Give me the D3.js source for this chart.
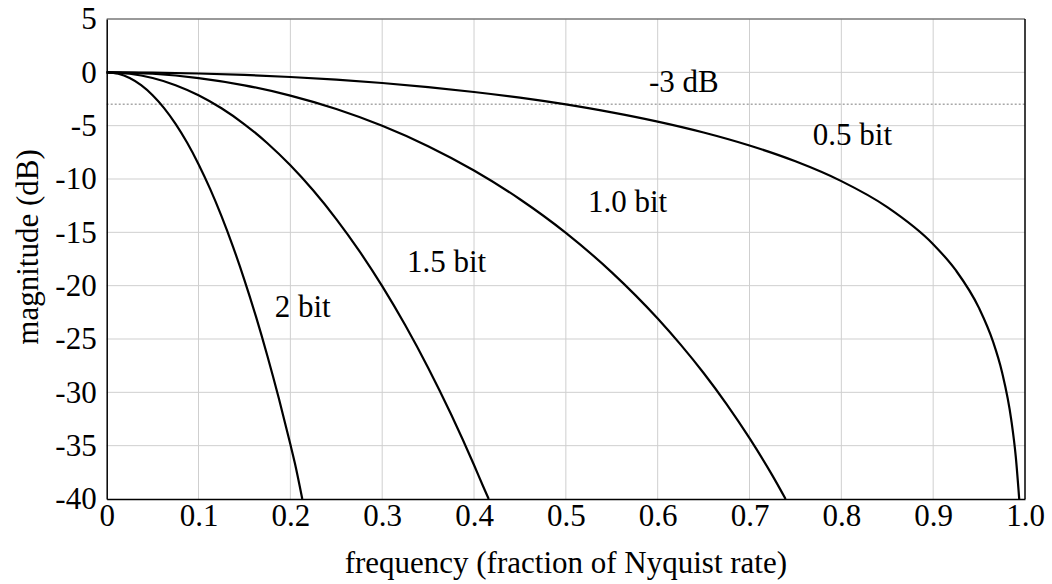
<!DOCTYPE html>
<html>
<head>
<meta charset="utf-8">
<script src="https://cdn.jsdelivr.net/npm/d3@7"></script>
<style>
  html, body { margin: 0; padding: 0; background: #fff; }
  svg { display: block; font-family: "Liberation Serif", "Times New Roman", Times, serif; }
</style>
</head>
<body>
<svg id="chart" width="1052" height="584"></svg>
<script>
// Frequency response curves (magnitude in dB vs. fraction of Nyquist rate)
const freq05 = [0, 0.05, 0.1, 0.15, 0.2, 0.25, 0.3, 0.35, 0.4, 0.45, 0.5, 0.55, 0.6, 0.65, 0.7, 0.75, 0.8, 0.85, 0.9, 0.925, 0.95, 0.965, 0.975, 0.985, 0.99, 0.9937];
const mag05  = [0, -0.027, -0.108, -0.243, -0.436, -0.688, -1.002, -1.385, -1.841, -2.379, -3.010, -3.749, -4.616, -5.638, -6.859, -8.343, -10.200, -12.636, -16.113, -18.597, -22.107, -25.20, -28.121, -32.556, -36.078, -40];

const freq10 = [0, 0.05, 0.1, 0.15, 0.2, 0.25, 0.3, 0.35, 0.4, 0.45, 0.5, 0.55, 0.6, 0.625, 0.65, 0.675, 0.7, 0.725, 0.735, 0.7393];
const mag10  = [0, -0.134, -0.538, -1.217, -2.180, -3.439, -5.012, -6.924, -9.204, -11.896, -15.05, -18.75, -23.08, -25.53, -28.19, -31.10, -34.30, -37.81, -39.33, -40];

const freq15 = [0, 0.025, 0.05, 0.075, 0.1, 0.125, 0.15, 0.175, 0.2, 0.225, 0.25, 0.275, 0.3, 0.325, 0.35, 0.375, 0.4, 0.41, 0.416];
const mag15  = [0, -0.134, -0.536, -1.208, -2.152, -3.371, -4.868, -6.648, -8.718, -11.084, -13.754, -16.738, -20.048, -23.695, -27.694, -32.061, -36.816, -38.83, -40];

const freq20 = [0, 0.0125, 0.025, 0.0375, 0.05, 0.0625, 0.075, 0.0875, 0.1, 0.1125, 0.125, 0.1375, 0.15, 0.1625, 0.175, 0.1875, 0.2, 0.205, 0.213];
const mag20  = [0, -0.134, -0.536, -1.206, -2.146, -3.354, -4.834, -6.584, -8.608, -10.906, -13.482, -16.335, -19.472, -22.885, -26.591, -30.585, -34.874, -36.67, -40];

// Axis ticks
const xTicks = [0, 0.1, 0.2, 0.3, 0.4, 0.5, 0.6, 0.7, 0.8, 0.9, 1.0];
const xTickLabels = ["0", "0.1", "0.2", "0.3", "0.4", "0.5", "0.6", "0.7", "0.8", "0.9", "1.0"];
const yTicks = [5, 0, -5, -10, -15, -20, -25, -30, -35, -40];

// Reference level and curve annotations
const cutoffLevel = -3;
const annotations = [
  { text: "-3 dB",   f: 0.5906, db: -1.85 },
  { text: "0.5 bit", f: 0.769,  db: -6.84 },
  { text: "1.0 bit", f: 0.524,  db: -13.1 },
  { text: "1.5 bit", f: 0.327,  db: -18.7 },
  { text: "2 bit",   f: 0.183,  db: -22.9 }
];

const series = [
  { f: freq05, m: mag05 },
  { f: freq10, m: mag10 },
  { f: freq15, m: mag15 },
  { f: freq20, m: mag20 }
];

const svg = d3.select("#chart");
const W = 1052, H = 584;
const margin = { left: 106.7, right: 27, top: 19, bottom: 85 };
const x = d3.scaleLinear().domain([0, 1]).range([margin.left, W - margin.right]);
const y = d3.scaleLinear().domain([-40, 5]).range([H - margin.bottom, margin.top]);

const fontSize = 31;

// Grid
const grid = svg.append("g");
grid.selectAll("line.vx").data(xTicks.slice(1, -1)).join("line")
  .attr("x1", d => x(d)).attr("x2", d => x(d))
  .attr("y1", y(5)).attr("y2", y(-40))
  .attr("stroke", "#cfcfcf").attr("stroke-width", 1);
grid.selectAll("line.hy").data(yTicks.slice(1, -1)).join("line")
  .attr("x1", x(0)).attr("x2", x(1))
  .attr("y1", d => y(d)).attr("y2", d => y(d))
  .attr("stroke", "#cfcfcf").attr("stroke-width", 1);

// -3 dB reference
svg.append("line")
  .attr("x1", x(0)).attr("x2", x(1))
  .attr("y1", y(cutoffLevel)).attr("y2", y(cutoffLevel))
  .attr("stroke", "#a8a8a8").attr("stroke-width", 1.5)
  .attr("stroke-dasharray", "2,2");

// Frame
svg.append("line").attr("x1", x(0)).attr("x2", x(1)).attr("y1", y(5)).attr("y2", y(5))
  .attr("stroke", "#777").attr("stroke-width", 1.5);
svg.append("line").attr("x1", x(1)).attr("x2", x(1)).attr("y1", y(5)).attr("y2", y(-40))
  .attr("stroke", "#000").attr("stroke-width", 1.5);

// Curves
const line = d3.line()
  .x(d => x(d[0])).y(d => y(d[1]))
  .curve(d3.curveMonotoneX);
svg.append("g").selectAll("path").data(series).join("path")
  .attr("d", s => line(s.f.map((f, i) => [f, s.m[i]])))
  .attr("fill", "none").attr("stroke", "#000").attr("stroke-width", 2.2);

// Axes
const xAxis = d3.axisBottom(x).tickValues(xTicks)
  .tickFormat((d, i) => xTickLabels[i]).tickSize(0).tickPadding(5);
const gx = svg.append("g").attr("transform", `translate(0,${y(-40)})`).call(xAxis);
gx.attr("font-family", null).attr("font-size", null);
gx.select(".domain").attr("stroke", "#000").attr("stroke-width", 1.5);
gx.selectAll("text").attr("font-size", fontSize).attr("fill", "#000");

const yAxis = d3.axisLeft(y).tickValues(yTicks).tickFormat(d3.format("d")).tickSize(0).tickPadding(10);
const gy = svg.append("g").attr("transform", `translate(${x(0)},0)`).call(yAxis);
gy.attr("font-family", null).attr("font-size", null);
gy.select(".domain").attr("stroke", "#000").attr("stroke-width", 1.5);
gy.selectAll("text").attr("font-size", fontSize).attr("fill", "#000")
  .text(d => d < 0 ? "-" + Math.abs(d) : String(d));

// Axis titles
svg.append("text")
  .attr("x", (x(0) + x(1)) / 2).attr("y", H - 11)
  .attr("text-anchor", "middle").attr("font-size", fontSize)
  .text("frequency (fraction of Nyquist rate)");
svg.append("text")
  .attr("transform", `translate(38,${(y(5) + y(-40)) / 2 - 12}) rotate(-90)`)
  .attr("text-anchor", "middle").attr("font-size", fontSize)
  .text("magnitude (dB)");

// Annotations
svg.append("g").selectAll("text").data(annotations).join("text")
  .attr("x", d => x(d.f)).attr("y", d => y(d.db))
  .attr("font-size", fontSize)
  .text(d => d.text);
</script>
</body>
</html>
